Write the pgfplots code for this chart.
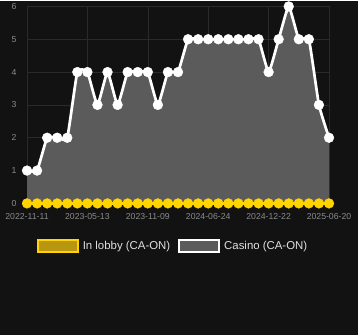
\documentclass[border=0pt]{standalone}
\usepackage{pgfplots}
\pgfplotsset{compat=1.18}
\usepackage{fontspec}
\setmainfont{Liberation Sans}

\definecolor{bgdark}{HTML}{121212}
\definecolor{gridc}{HTML}{2A2A2A}
\definecolor{tickc}{HTML}{8A8A8A}
\definecolor{casinofill}{HTML}{5B5B5B}
\definecolor{lobbyc}{HTML}{FFD400}
\definecolor{lobbyfill}{HTML}{B8960F}
\definecolor{legtext}{HTML}{E0E0E0}

\begin{document}
\begin{tikzpicture}[x=1pt,y=1pt]
  % page background
  \fill[bgdark] (0,0) rectangle (358,334);
  \begin{axis}[
    at={(27pt,132pt)}, anchor=south west,
    scale only axis, width=302pt, height=197pt,
    xmin=0, xmax=30, ymin=0, ymax=6,
    axis line style={draw=none},
    tick style={draw=none},
    grid=major, major grid style={gridc, line width=0.6pt},
    xtick={0,6,12,18,24,30},
    xticklabels={2022-11-11,2023-05-13,2023-11-09,2024-06-24,2024-12-22,2025-06-20},
    ytick={0,1,2,3,4,5,6},
    ticklabel style={font=\fontsize{8.7}{10}\selectfont, text=tickc},
    /pgf/number format/assume math mode=true,
    xticklabel style={yshift=-6pt},
    yticklabel style={xshift=-7pt},
    clip=false,
    legend columns=2,
    legend style={at={(0.5,-0.215)}, anchor=center, xshift=-5pt,
      fill=none, draw=none,
      text=legtext, font=\fontsize{11.4}{13}\selectfont,
      /tikz/every odd column/.append style={column sep=2pt},
      /tikz/every even column/.append style={column sep=6pt}},
    legend cell align=left,
  ]
    % area under the casino series
    \addplot[draw=none, fill=casinofill, smooth, tension=0.25, forget plot]
      coordinates {(0,1)(1,1)(2,2)(3,2)(4,2)(5,4)(6,4)(7,3)(8,4)(9,3)(10,4)
        (11,4)(12,4)(13,3)(14,4)(15,4)(16,5)(17,5)(18,5)(19,5)(20,5)(21,5)
        (22,5)(23,5)(24,4)(25,5)(26,6)(27,5)(28,5)(29,3)(30,2)} \closedcycle;
    % casino line with markers
    \addplot[white, line width=2.7pt, smooth, tension=0.25, mark=*,
      mark size=4.9pt, mark options={fill=white, draw=white, line width=0.4pt, solid}, forget plot]
      coordinates {(0,1)(1,1)(2,2)(3,2)(4,2)(5,4)(6,4)(7,3)(8,4)(9,3)(10,4)
        (11,4)(12,4)(13,3)(14,4)(15,4)(16,5)(17,5)(18,5)(19,5)(20,5)(21,5)
        (22,5)(23,5)(24,4)(25,5)(26,6)(27,5)(28,5)(29,3)(30,2)};
    % in-lobby series
    \addplot[lobbyc, line width=2.7pt, mark=*, mark size=4.9pt,
      mark options={fill=lobbyc, draw=lobbyc, line width=0.4pt, solid}, forget plot]
      coordinates {(0,0)(1,0)(2,0)(3,0)(4,0)(5,0)(6,0)(7,0)(8,0)(9,0)(10,0)
        (11,0)(12,0)(13,0)(14,0)(15,0)(16,0)(17,0)(18,0)(19,0)(20,0)(21,0)
        (22,0)(23,0)(24,0)(25,0)(26,0)(27,0)(28,0)(29,0)(30,0)};
    % legend entries
    \addlegendimage{legend image code/.code={
      \draw[lobbyc, fill=lobbyfill, line width=2pt] (0pt,-6pt) rectangle (40pt,6pt);}}
    \addlegendentry{In lobby (CA-ON)}
    \addlegendimage{legend image code/.code={
      \draw[white, fill=casinofill, line width=2pt] (0pt,-6pt) rectangle (40pt,6pt);}}
    \addlegendentry{Casino (CA-ON)}
  \end{axis}
\end{tikzpicture}
\end{document}
